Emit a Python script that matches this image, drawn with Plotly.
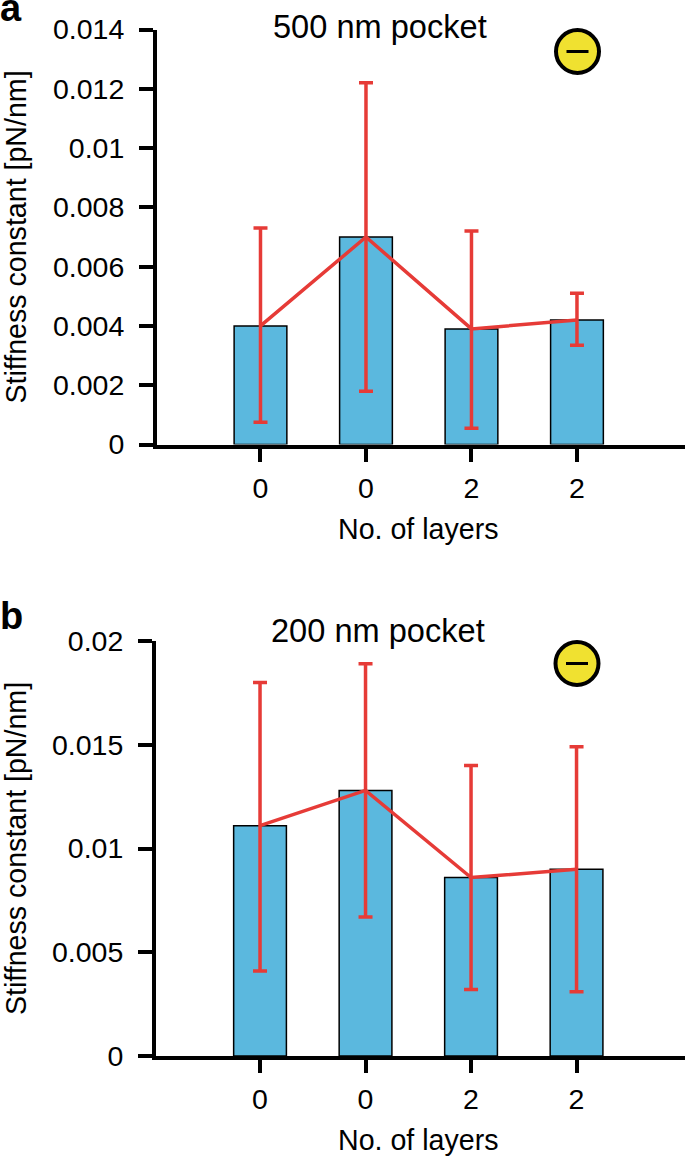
import plotly.graph_objects as go

W, H = 685, 1157
FONT = "Liberation Sans"
RED = "#E63B37"
BLUE = "#5BB8DE"

positions = [1, 2, 3, 4]
layer_labels = ["0", "0", "2", "2"]

means_a = [0.0040, 0.0070, 0.0039, 0.0042]
upper_a = [0.0073, 0.0122, 0.0072, 0.0051]
lower_a = [0.00075, 0.0018, 0.00055, 0.00335]
yticks_a = [0, 0.002, 0.004, 0.006, 0.008, 0.01, 0.012, 0.014]
yticklabels_a = ["0", "0.002", "0.004", "0.006", "0.008", "0.01", "0.012", "0.014"]

means_b = [0.0111, 0.0128, 0.0086, 0.0090]
upper_b = [0.0180, 0.0189, 0.0140, 0.0149]
lower_b = [0.0041, 0.0067, 0.0032, 0.0031]
yticks_b = [0, 0.005, 0.01, 0.015, 0.02]
yticklabels_b = ["0", "0.005", "0.01", "0.015", "0.02"]

fig = go.Figure()


def add_panel(suffix, means, upper, lower):
    fig.add_trace(go.Bar(
        x=positions, y=means, width=0.5, xaxis="x" + suffix, yaxis="y" + suffix,
        marker=dict(color=BLUE, line=dict(color="black", width=1.5)),
        showlegend=False,
    ))
    fig.add_trace(go.Scatter(
        x=positions, y=means, mode="lines", xaxis="x" + suffix, yaxis="y" + suffix,
        line=dict(color=RED, width=3.5),
        error_y=dict(
            type="data", symmetric=False,
            array=[u - m for u, m in zip(upper, means)],
            arrayminus=[m - l for l, m in zip(lower, means)],
            color=RED, thickness=3.5, width=7,
        ),
        showlegend=False,
    ))


add_panel("", means_a, upper_a, lower_a)
add_panel("2", means_b, upper_b, lower_b)


def xaxis_cfg(left, right, rng, anchor):
    return dict(
        domain=[left / W, right / W], range=rng, anchor=anchor, automargin=False,
        tickmode="array", tickvals=positions, ticktext=layer_labels,
        showline=True, linecolor="black", linewidth=4,
        ticks="outside", ticklen=13, tickwidth=3.5, tickcolor="black",
        ticklabelstandoff=2,
        tickfont=dict(family=FONT, size=28.5, color="black"),
        showgrid=False, zeroline=False,
    )


def yaxis_cfg(top, bottom, rng, vals, labels, anchor):
    return dict(
        domain=[1 - bottom / H, 1 - top / H], range=rng, anchor=anchor, automargin=False,
        tickmode="array", tickvals=vals, ticktext=labels,
        showline=True, linecolor="black", linewidth=4,
        ticks="outside", ticklen=14, tickwidth=3.5, tickcolor="black",
        ticklabelstandoff=9,
        tickfont=dict(family=FONT, size=28.5, color="black"),
        title=dict(text="Stiffness constant [pN/nm]", standoff=27,
                   font=dict(family=FONT, size=28.6, color="black")),
        showgrid=False, zeroline=False,
    )


def label(text, x, y, size, bold=False):
    return dict(
        text=f"<b>{text}</b>" if bold else text,
        x=x / W, y=1 - y / H, xref="paper", yref="paper",
        xanchor="center", yanchor="middle", showarrow=False,
        font=dict(family=FONT, size=size, color="black"),
    )


def badge(cx, cy):
    r, hw = 21.5, 11
    return [
        dict(type="circle", xref="paper", yref="paper",
             x0=(cx - r) / W, x1=(cx + r) / W, y0=1 - (cy + r) / H, y1=1 - (cy - r) / H,
             fillcolor="#F0E130", line=dict(color="black", width=4)),
        dict(type="line", xref="paper", yref="paper",
             x0=(cx - hw) / W, x1=(cx + hw) / W, y0=1 - cy / H, y1=1 - cy / H,
             line=dict(color="black", width=3)),
    ]


fig.update_layout(
    width=W, height=H, autosize=False,
    margin=dict(l=0, r=0, t=0, b=0),
    paper_bgcolor="white", plot_bgcolor="white",
    font=dict(family=FONT, color="black"),
    bargap=0.5,
    xaxis=xaxis_cfg(157, 685, [0.019, 5.024], "y"),
    yaxis=yaxis_cfg(29.5, 444.5, [0, 0.014], yticks_a, yticklabels_a, "x"),
    xaxis2=xaxis_cfg(156, 685, [0.014, 5.028], "y2"),
    yaxis2=yaxis_cfg(641, 1056, [0, 0.02], yticks_b, yticklabels_b, "x2"),
    annotations=[
        label("500 nm pocket", 380, 26, 32.6),
        label("200 nm pocket", 378, 631, 32.6),
        label("No. of layers", 418.5, 529, 28.6),
        label("No. of layers", 418, 1140, 28.6),
        label("a", 11, 8, 38, bold=True),
        label("b", 11, 616, 38, bold=True),
    ],
    shapes=badge(577.5, 51.5) + badge(577, 663.5),
)

fig.write_html("out.html", config={"displayModeBar": False},
               post_script="document.body.style.margin='0';")
